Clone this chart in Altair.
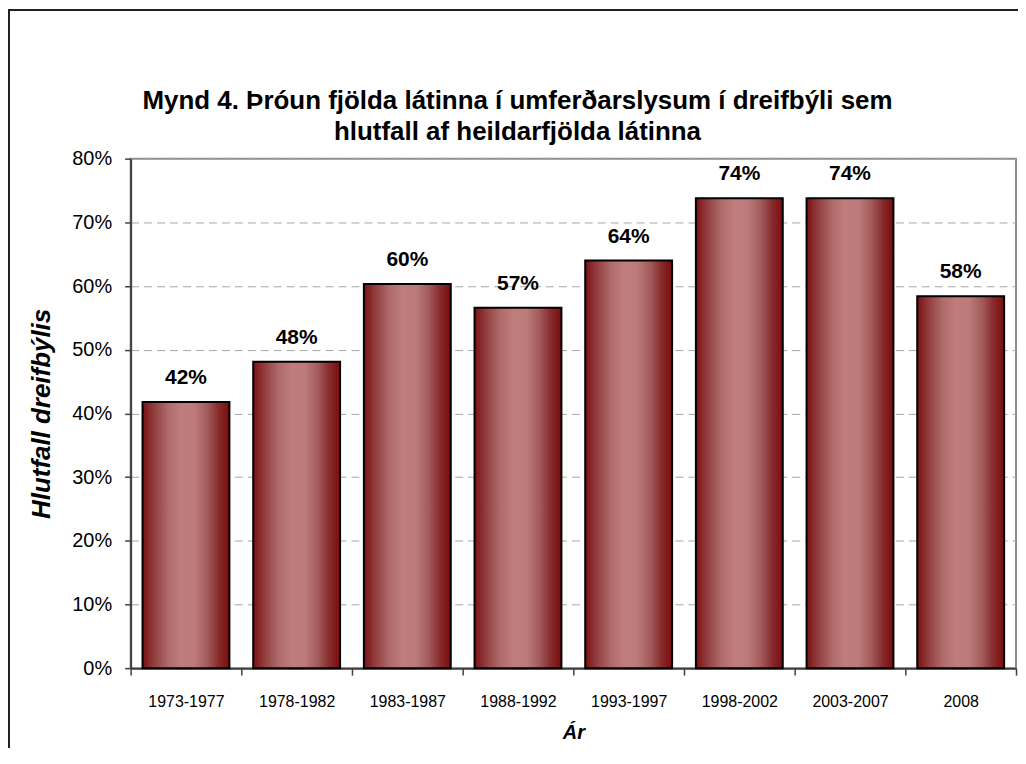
import altair as alt
import pandas as pd

# Data
periods = ["1973-1977", "1978-1982", "1983-1987", "1988-1992",
           "1993-1997", "1998-2002", "2003-2007", "2008"]
shares = [0.418, 0.481, 0.603, 0.566, 0.640, 0.738, 0.738, 0.584]
y_ticks = [0.0, 0.1, 0.2, 0.3, 0.4, 0.5, 0.6, 0.7, 0.8]

title_lines = ["Mynd 4. Þróun fjölda látinna í umferðarslysum í dreifbýli sem",
               "hlutfall af heildarfjölda látinna"]
x_title = "Ár"
y_title = "Hlutfall dreifbýlis"

df = pd.DataFrame({"period": periods, "share": shares})

FONT = "Liberation Sans"

grad = alt.Gradient(
    gradient="linear",
    x1=0, x2=1, y1=0, y2=0,
    stops=[
        alt.GradientStop(color="#7b1113", offset=0.0),
        alt.GradientStop(color="#8f3a3b", offset=0.12),
        alt.GradientStop(color="#b06c6c", offset=0.30),
        alt.GradientStop(color="#bf7d7c", offset=0.45),
        alt.GradientStop(color="#bc7a7a", offset=0.60),
        alt.GradientStop(color="#a25a5a", offset=0.75),
        alt.GradientStop(color="#862a2b", offset=0.88),
        alt.GradientStop(color="#7a0c0e", offset=1.0),
    ],
)

x_enc = alt.X(
    "period:N",
    sort=periods,
    scale=alt.Scale(paddingInner=0, paddingOuter=0),
    axis=alt.Axis(
        title=x_title,
        labelAngle=0,
        labelFont=FONT, labelFontSize=16, labelColor="#000000",
        labelPadding=18,
        tickBand="extent", tickSize=7, tickColor="#404040", tickWidth=1.5,
        domainColor="#404040", domainWidth=2,
        titleFont=FONT, titleFontSize=20, titleFontWeight="bold",
        titleFontStyle="italic", titleColor="#000000",
        titleX=444, titleY=71, titleBaseline="alphabetic", titleAlign="center",
        grid=False,
    ),
)

y_enc = alt.Y(
    "share:Q",
    scale=alt.Scale(domain=[0, 0.8], nice=False),
    axis=alt.Axis(
        title=y_title,
        values=y_ticks, format=".0%",
        labelFont=FONT, labelFontSize=20, labelColor="#000000",
        labelPadding=13,
        tickSize=6, tickColor="#404040", tickWidth=1.5,
        domainColor="#404040", domainWidth=2,
        grid=True, gridColor="#a6a6a6", gridDash=[8, 5], gridWidth=1,
        titleFont=FONT, titleFontSize=26, titleFontWeight="bold",
        titleFontStyle="italic", titleColor="#000000",
        titleAngle=-90, titleX=-81, titleY=255.5,
        titleBaseline="alphabetic", titleAlign="center",
    ),
)

base = alt.Chart(df)

bars = base.mark_bar(
    fill=grad, stroke="#000000", strokeWidth=2,
    width=alt.RelativeBandSize(0.785),
).encode(x=x_enc, y=y_enc)

labels = base.mark_text(
    font=FONT, fontSize=21, fontWeight="bold", color="#000000",
    baseline="alphabetic", dy=-18,
).encode(
    x=alt.X("period:N", sort=periods),
    y=alt.Y("share:Q"),
    text=alt.Text("share:Q", format=".0%"),
)

frame = base.mark_rect(
    fill=None, stroke="#222222", strokeWidth=1.5,
).encode(
    x=alt.value(-122), x2=alt.value(1100),
    y=alt.value(-149), y2=alt.value(700),
)

chart = alt.layer(frame, bars, labels).properties(
    width=888,
    height=511,
    autosize=alt.AutoSizeParams(type="none"),
    padding={"left": 123, "top": 150, "right": 2, "bottom": 79},
    title=alt.TitleParams(
        text=title_lines,
        font=FONT, fontSize=26, fontWeight="bold", color="#000000",
        anchor="middle", dx=-56, dy=136, offset=0, lineHeight=31,
    ),
    background="#ffffff",
).configure_view(
    stroke="#8c8c8c", strokeWidth=2,
)

chart.save("out.html", embed_options={"renderer": "svg", "actions": False})
